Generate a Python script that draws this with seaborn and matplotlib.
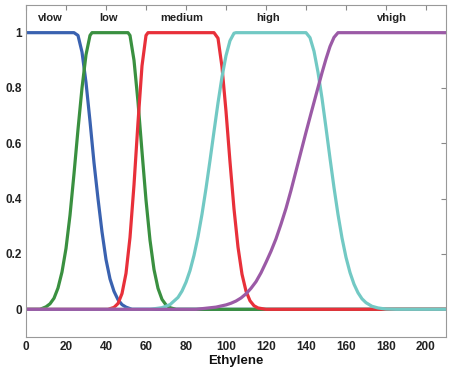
import numpy as np
import matplotlib
matplotlib.use('Agg')
import matplotlib.pyplot as plt
import seaborn as sns
import pandas as pd

# membership curves
vlow_x = [0, 24, 26, 28, 30, 32, 34, 36, 38, 40, 42, 44, 46, 48, 50, 53, 210]
vlow_y = [1, 1, 0.99, 0.93, 0.82, 0.68, 0.53, 0.40, 0.28, 0.18, 0.11, 0.065, 0.035, 0.017, 0.008, 0, 0]

low_x = [0, 7, 10, 12, 14, 16, 18, 20, 22, 24, 26, 28, 30, 32, 33,
         51, 52, 54, 56, 58, 60, 62, 64, 66, 68, 70, 72, 75, 210]
low_y = [0, 0, 0.009, 0.02, 0.04, 0.077, 0.135, 0.22, 0.34, 0.49, 0.65, 0.80, 0.92, 0.99, 1,
         1, 0.99, 0.90, 0.75, 0.57, 0.395, 0.25, 0.144, 0.076, 0.036, 0.016, 0.006, 0, 0]

medium_x = [0, 41, 44, 46, 48, 50, 52, 54, 56, 58, 60, 61,
            94, 96, 98, 100, 102, 104, 106, 108, 110, 112, 114, 116, 120, 210]
medium_y = [0, 0, 0.007, 0.021, 0.057, 0.13, 0.26, 0.45, 0.675, 0.88, 0.99, 1,
            1, 0.98, 0.876, 0.716, 0.533, 0.363, 0.225, 0.127, 0.066, 0.031, 0.013, 0.005, 0, 0]

high_x = [0, 62, 68, 72, 76, 78, 80, 82, 84, 86, 88, 90, 92, 94, 96, 98, 100, 102, 104, 105,
          140, 142, 144, 146, 148, 150, 152, 154, 156, 158, 160, 162, 164, 166, 168, 170,
          173, 176, 180, 185, 210]
high_y = [0, 0, 0.006, 0.017, 0.043, 0.066, 0.098, 0.14, 0.195, 0.263, 0.344, 0.437, 0.538,
          0.643, 0.746, 0.84, 0.917, 0.971, 0.998, 1,
          1, 0.982, 0.933, 0.857, 0.763, 0.656, 0.546, 0.44, 0.343, 0.258, 0.188, 0.133,
          0.091, 0.06, 0.038, 0.024, 0.011, 0.005, 0.001, 0, 0]

vhigh_x = [0, 85, 90, 95, 100, 102.5, 105, 107.5, 110, 112.5, 115, 117.5, 120, 122.5, 125,
           127.5, 130, 132.5, 135, 137.5, 140, 142.5, 145, 148, 150, 152, 154, 156, 210]
vhigh_y = [0, 0, 0.004, 0.008, 0.016, 0.022, 0.03, 0.041, 0.056, 0.076, 0.1, 0.132, 0.17,
           0.21, 0.255, 0.308, 0.365, 0.43, 0.5, 0.57, 0.64, 0.708, 0.775, 0.855, 0.905,
           0.95, 0.983, 1, 1]

names = ['vlow', 'low', 'medium', 'high', 'vhigh']
label_x = [12, 41.5, 78, 121, 183]
colors = ['#3A62B0', '#3A9040', '#E8303A', '#72C9C4', '#9B5AA6']

xticks = [0, 20, 40, 60, 80, 100, 120, 140, 160, 180, 200]
yticks = [0, 0.2, 0.4, 0.6, 0.8, 1]
ytick_labels = ['0', '0.2', '0.4', '0.6', '0.8', '1']

curves = [(vlow_x, vlow_y), (low_x, low_y), (medium_x, medium_y),
          (high_x, high_y), (vhigh_x, vhigh_y)]
frames = []
for name, (xs, ys) in zip(names, curves):
    frames.append(pd.DataFrame({'x': xs, 'y': ys, 'set': name}))
df = pd.concat(frames, ignore_index=True)

sns.set_theme(style='white')
plt.rcParams['font.family'] = ['Liberation Sans', 'DejaVu Sans']

fig = plt.figure(figsize=(4.58, 3.78), dpi=100)
ax = fig.add_axes([26 / 458, 1 - 337 / 378, 420 / 458, 332 / 378])

sns.lineplot(data=df, x='x', y='y', hue='set', hue_order=names,
             palette=colors, estimator=None, sort=False, linewidth=2.3,
             legend=False, ax=ax)

for name, lx in zip(names, label_x):
    ax.text(lx, 1.052, name, ha='center', va='center', fontsize=8,
            fontweight='bold', color='#222222')

ax.set_xlim(0, 210)
ax.set_ylim(-0.1, 1.1)
ax.set_xticks(xticks)
ax.set_yticks(yticks)
ax.set_yticklabels(ytick_labels)
ax.set_xlabel('Ethylene', fontsize=9.5, fontweight='bold', color='#111111', labelpad=1)
ax.set_ylabel('')
ax.tick_params(direction='in', length=3.5, width=0.8, color='#888888',
               top=True, right=True, labelsize=8.5, labelcolor='#222222', pad=3)
for t in ax.get_xticklabels() + ax.get_yticklabels():
    t.set_fontweight('bold')
for s in ax.spines.values():
    s.set_color('#999999')
    s.set_linewidth(0.8)

fig.savefig('out.png', dpi=100)
